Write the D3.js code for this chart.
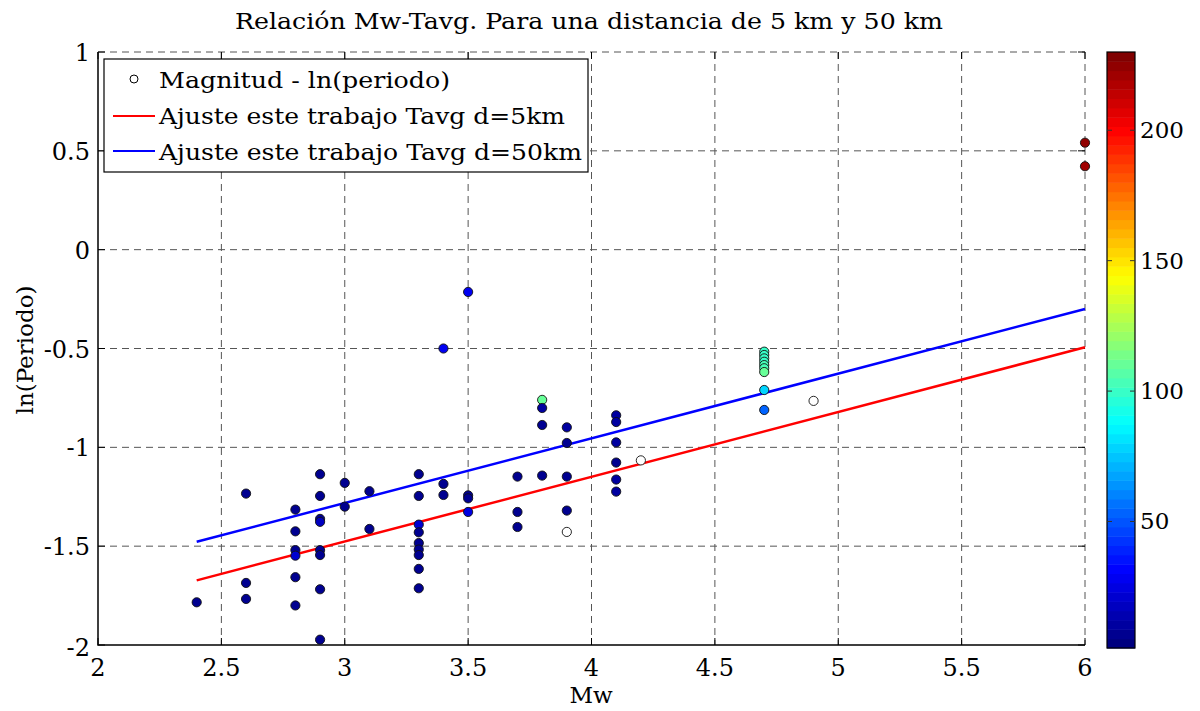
<!DOCTYPE html>
<html>
<head>
  <meta charset="UTF-8">
  <title>Relación Mw-Tavg</title>
  <style>
    body { margin: 0; background: #fff; }
    .grid line { stroke: #555; stroke-width: 1; stroke-dasharray: 7 5; }
  </style>
</head>
<body>
  <svg></svg>
  <script src="https://d3js.org/d3.v7.min.js"></script>
  <script>
    let width = 1200, height = 711;
    let svg = d3.select("svg").attr("width", width).attr("height", height)
      .attr("font-family", "'DejaVu Serif', serif");

    // data
    const mw = [2.4,
      2.6, 2.6, 2.6,
      2.8, 2.8, 2.8, 2.8, 2.8, 2.8,
      2.9, 2.9, 2.9, 2.9, 2.9, 2.9, 2.9, 2.9,
      3.0, 3.0, 3.1, 3.1,
      3.3, 3.3, 3.3, 3.3, 3.3, 3.3, 3.3, 3.3, 3.3,
      3.4, 3.4, 3.4,
      3.5, 3.5, 3.5, 3.5,
      3.7, 3.7, 3.7,
      3.8, 3.8, 3.8, 3.8,
      3.9, 3.9, 3.9, 3.9, 3.9,
      4.1, 4.1, 4.1, 4.1, 4.1, 4.1,
      4.2,
      4.7, 4.7, 4.7, 4.7, 4.7, 4.7, 4.7, 4.7, 4.7,
      4.9,
      6.0, 6.0];
    const lnPeriodo = [-1.784,
      -1.234, -1.686, -1.767,
      -1.315, -1.425, -1.52, -1.548, -1.657, -1.80,
      -1.136, -1.246, -1.362, -1.377, -1.52, -1.545, -1.718, -1.973,
      -1.18, -1.30, -1.222, -1.413,
      -1.136, -1.246, -1.391, -1.43, -1.484, -1.517, -1.545, -1.615, -1.713,
      -0.50, -1.185, -1.241,
      -0.214, -1.243, -1.258, -1.327,
      -1.148, -1.327, -1.403,
      -0.760, -0.801, -0.887, -1.143,
      -0.899, -0.978, -1.148, -1.320, -1.428,
      -0.838, -0.872, -0.975, -1.077, -1.163, -1.224,
      -1.066,
      -0.516, -0.533, -0.55, -0.567, -0.584, -0.60, -0.619, -0.71, -0.811,
      -0.765,
      0.541, 0.422];
    // colour value (null = no colour, open marker)
    const distancia = [8,
      8, 8, 8,
      8, 8, 8, 20, 8, 8,
      8, 8, 8, 18, 8, 8, 8, 8,
      8, 8, 8, 8,
      8, 8, 20, 8, 8, 8, 8, 8, 8,
      30, 8, 8,
      30, 8, 8, 25,
      8, 8, 8,
      112, 10, 8, 8,
      10, 8, 8, 8, null,
      12, 12, 10, 8, 10, 10,
      null,
      98, 99, 100, 100, 102, 104, 112, 80, 55,
      null,
      225, 222];

    const fitX = [2.4, 6];
    const fit5km = [-1.673, -0.494];
    const fit50km = [-1.478, -0.30];

    const xTicks = [2, 2.5, 3, 3.5, 4, 4.5, 5, 5.5, 6];
    const yTicks = [-2, -1.5, -1, -0.5, 0, 0.5, 1];
    const cTicks = [50, 100, 150, 200];
    const cDomain = [1.5, 230];

    const pLeft = 98, pRight = 1085, pTop = 52, pBottom = 645;
    let x = d3.scaleLinear().domain([2, 6]).range([pLeft, pRight]);
    let y = d3.scaleLinear().domain([-2, 1]).range([pBottom, pTop]);

    // MATLAB jet, 64 levels
    function jet(t) {
      t = Math.max(0, Math.min(1, t));
      let c = v => Math.round(255 * Math.max(0, Math.min(1, v)));
      return `rgb(${c(1.5 - Math.abs(4 * t - 3))},${c(1.5 - Math.abs(4 * t - 2))},${c(1.5 - Math.abs(4 * t - 1))})`;
    }
    let cNorm = d3.scaleLinear().domain(cDomain).range([0, 1]).clamp(true);
    let colour = v => v == null ? "#fff" : jet(Math.floor(cNorm(v) * 63.999) / 63);

    // grid
    let grid = svg.append("g").attr("class", "grid");
    grid.selectAll(".gx").data(xTicks.slice(1)).enter().append("line")
      .attr("x1", d => x(d)).attr("x2", d => x(d))
      .attr("y1", pTop).attr("y2", pBottom);
    grid.selectAll(".gy").data(yTicks.slice(1)).enter().append("line")
      .attr("x1", pLeft).attr("x2", pRight)
      .attr("y1", d => y(d)).attr("y2", d => y(d));

    // ticks inward on all four sides
    let tk = svg.append("g").attr("stroke", "#000").attr("stroke-width", 1);
    xTicks.forEach(d => {
      tk.append("line").attr("x1", x(d)).attr("x2", x(d)).attr("y1", pBottom).attr("y2", pBottom - 7);
      tk.append("line").attr("x1", x(d)).attr("x2", x(d)).attr("y1", pTop).attr("y2", pTop + 7);
    });
    yTicks.forEach(d => {
      tk.append("line").attr("x1", pLeft).attr("x2", pLeft + 7).attr("y1", y(d)).attr("y2", y(d));
      tk.append("line").attr("x1", pRight).attr("x2", pRight - 7).attr("y1", y(d)).attr("y2", y(d));
    });
    svg.append("path").attr("fill", "none").attr("stroke", "#000").attr("stroke-width", 1.5)
      .attr("d", `M${pLeft},${pTop}V${pBottom}H${pRight}`);

    // tick labels
    svg.append("g").selectAll("text").data(xTicks).enter().append("text")
      .attr("x", d => x(d)).attr("y", pBottom + 31)
      .attr("text-anchor", "middle").attr("font-size", 24)
      .text(d => String(d));
    svg.append("g").selectAll("text").data(yTicks).enter().append("text")
      .attr("x", pLeft - 8).attr("y", d => y(d) + (d === -2 ? 11 : 9))
      .attr("text-anchor", "end").attr("font-size", 24)
      .text(d => String(d));

    // fit lines
    let line = d3.line().x(d => x(d[0])).y(d => y(d[1]));
    svg.append("path").datum(fitX.map((v, i) => [v, fit5km[i]]))
      .attr("d", line).attr("fill", "none").attr("stroke", "#ff0000").attr("stroke-width", 2.5);
    svg.append("path").datum(fitX.map((v, i) => [v, fit50km[i]]))
      .attr("d", line).attr("fill", "none").attr("stroke", "#0000ff").attr("stroke-width", 2.5);

    // scatter
    svg.append("g").selectAll("circle").data(mw).enter().append("circle")
      .attr("cx", d => x(d)).attr("cy", (d, i) => y(lnPeriodo[i]))
      .attr("r", 4.6)
      .attr("fill", (d, i) => colour(distancia[i]))
      .attr("stroke", "#111").attr("stroke-width", 0.9);

    // legend
    let lg = svg.append("g");
    lg.append("rect").attr("x", 104).attr("y", 59).attr("width", 484).attr("height", 113)
      .attr("fill", "#fff").attr("stroke", "#000").attr("stroke-width", 1.2);
    lg.append("circle").attr("cx", 134).attr("cy", 79).attr("r", 4)
      .attr("fill", "#fff").attr("stroke", "#000");
    lg.append("line").attr("x1", 113).attr("x2", 155).attr("y1", 116).attr("y2", 116)
      .attr("stroke", "#ff0000").attr("stroke-width", 2);
    lg.append("line").attr("x1", 113).attr("x2", 155).attr("y1", 151).attr("y2", 151)
      .attr("stroke", "#0000ff").attr("stroke-width", 2);
    const legendLabels = ["Magnitud - ln(periodo)", "Ajuste este trabajo Tavg d=5km", "Ajuste este trabajo Tavg d=50km"];
    const legendWidths = [291, 406, 423];
    lg.selectAll("text").data(legendLabels).enter().append("text")
      .attr("x", 159).attr("y", (d, i) => 88 + i * 36)
      .attr("font-size", 23)
      .attr("textLength", (d, i) => legendWidths[i]).attr("lengthAdjust", "spacingAndGlyphs")
      .text(d => d);

    // colorbar
    const cbX = 1107, cbW = 28, cbTop = 52, cbBottom = 648;
    let cy = d3.scaleLinear().domain(cDomain).range([cbBottom, cbTop]);
    let cb = svg.append("g");
    cb.selectAll("rect").data(d3.range(64)).enter().append("rect")
      .attr("x", cbX).attr("width", cbW)
      .attr("y", d => cy(cDomain[0] + (d + 1) / 64 * (cDomain[1] - cDomain[0])))
      .attr("height", (cbBottom - cbTop) / 64 + 0.5)
      .attr("fill", d => jet(d / 63));
    cb.append("rect").attr("x", cbX).attr("y", cbTop).attr("width", cbW).attr("height", cbBottom - cbTop)
      .attr("fill", "none").attr("stroke", "#000").attr("stroke-width", 1.2);
    cTicks.forEach(d => {
      cb.append("line").attr("x1", cbX).attr("x2", cbX + 5).attr("y1", cy(d)).attr("y2", cy(d)).attr("stroke", "#333");
      cb.append("line").attr("x1", cbX + cbW - 5).attr("x2", cbX + cbW).attr("y1", cy(d)).attr("y2", cy(d)).attr("stroke", "#333");
      cb.append("text").attr("x", cbX + cbW + 5).attr("y", cy(d) + 8)
        .attr("font-size", 23).text(d);
    });

    // titles
    svg.append("text").attr("x", 589).attr("y", 29).attr("text-anchor", "middle")
      .attr("font-size", 23).attr("textLength", 708).attr("lengthAdjust", "spacingAndGlyphs")
      .text("Relación Mw-Tavg. Para una distancia de 5 km y 50 km");
    svg.append("text").attr("x", 591).attr("y", 703).attr("text-anchor", "middle")
      .attr("font-size", 23).text("Mw");
    svg.append("text").attr("transform", "translate(33,350) rotate(-90)").attr("text-anchor", "middle")
      .attr("font-size", 23).text("ln(Periodo)");
  </script>
</body>
</html>
